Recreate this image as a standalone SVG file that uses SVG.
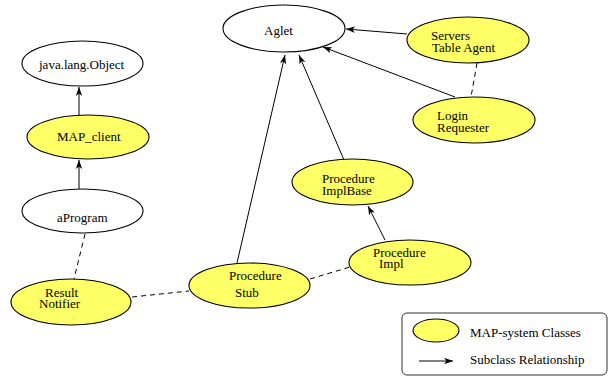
<svg xmlns="http://www.w3.org/2000/svg" width="612" height="377" viewBox="0 0 612 377" font-family="'Liberation Serif', Tinos, 'Times New Roman', 'DejaVu Serif', serif">
  <style>
    .cls { fill: #ffffff; stroke: #000000; stroke-width: 1.1; }
    .map { fill: #ffff66; stroke: #000000; stroke-width: 1.1; }
    text { font-family: 'Liberation Serif', Tinos, 'Times New Roman', 'DejaVu Serif', serif; font-size: 13px; fill: #000000; }
    .sub { fill: none; stroke: #000000; stroke-width: 1; marker-end: url(#head); }
    .assoc { fill: none; stroke: #000000; stroke-width: 1; stroke-dasharray: 5 4; }
  </style>
  <defs>
    <marker id="head" markerUnits="userSpaceOnUse" markerWidth="12" markerHeight="10" refX="9" refY="5" orient="auto">
      <path d="M0,1.8 L9,5 L0,8.2 L2.5,5 z" fill="#000000"/>
    </marker>
  </defs>
  <rect width="612" height="377" fill="#ffffff"/>

  <!-- connectors -->
  <g id="connectors">
    <line class="sub" x1="79" y1="115" x2="79" y2="87"/>
    <line class="sub" x1="79" y1="189" x2="79" y2="160"/>
    <line class="assoc" x1="85" y1="234" x2="74" y2="279"/>
    <line class="assoc" x1="132" y1="297" x2="189" y2="291"/>
    <line class="assoc" x1="310" y1="279" x2="350" y2="267"/>
    <line class="sub" x1="237" y1="263" x2="285" y2="55"/>
    <line class="sub" x1="344" y1="160" x2="299" y2="55"/>
    <line class="sub" x1="385" y1="240" x2="368" y2="206"/>
    <line class="sub" x1="407" y1="34" x2="346" y2="29"/>
    <line class="sub" x1="455" y1="97" x2="323" y2="47"/>
    <line class="assoc" x1="477" y1="63" x2="471" y2="97"/>
  </g>

  <g id="java-lang-object">
    <ellipse class="cls" cx="82.5" cy="63.5" rx="60.5" ry="22.5"/>
    <text x="39" y="69">java.lang.Object</text>
  </g>
  <g id="map-client">
    <ellipse class="map" cx="88" cy="137" rx="61" ry="22"/>
    <text x="57" y="141">MAP_client</text>
  </g>
  <g id="aprogram">
    <ellipse class="cls" cx="82.5" cy="211" rx="60.5" ry="22"/>
    <text x="57" y="222">aProgram</text>
  </g>
  <g id="result-notifier">
    <ellipse class="map" cx="71" cy="302" rx="60" ry="23"/>
    <text x="45" y="296.5">Result</text>
    <text x="39" y="307.5">Notifier</text>
  </g>
  <g id="procedure-stub">
    <ellipse class="map" cx="249.5" cy="285.5" rx="60.5" ry="22.5"/>
    <text x="229" y="279.5">Procedure</text>
    <text x="235" y="297">Stub</text>
  </g>
  <g id="aglet">
    <ellipse class="cls" cx="284" cy="28.5" rx="61" ry="23.5"/>
    <text x="264" y="35">Aglet</text>
  </g>
  <g id="servers-table-agent">
    <ellipse class="map" cx="468" cy="40" rx="61" ry="23"/>
    <text x="431" y="40">Servers</text>
    <text x="432" y="52">Table Agent</text>
  </g>
  <g id="login-requester">
    <ellipse class="map" cx="474" cy="120" rx="61" ry="23"/>
    <text x="437" y="120">Login</text>
    <text x="437" y="131.5">Requester</text>
  </g>
  <g id="procedure-implbase">
    <ellipse class="map" cx="352.5" cy="182" rx="60.5" ry="23"/>
    <text x="322" y="183">Procedure</text>
    <text x="322" y="194.5">ImplBase</text>
  </g>
  <g id="procedure-impl">
    <ellipse class="map" cx="410" cy="262.5" rx="61" ry="22.5"/>
    <text x="373" y="256.5">Procedure</text>
    <text x="379" y="268">Impl</text>
  </g>

  <!-- key -->
  <g id="legend">
    <rect x="402" y="313" width="205" height="62" rx="5" fill="#ffffff" stroke="#333333" stroke-width="1"/>
    <ellipse class="map" cx="436" cy="330.5" rx="23" ry="11.5"/>
    <text x="470" y="337">MAP-system Classes</text>
    <line class="sub" x1="419" y1="361" x2="453" y2="361"/>
    <text x="470" y="364">Subclass Relationship</text>
  </g>
</svg>
